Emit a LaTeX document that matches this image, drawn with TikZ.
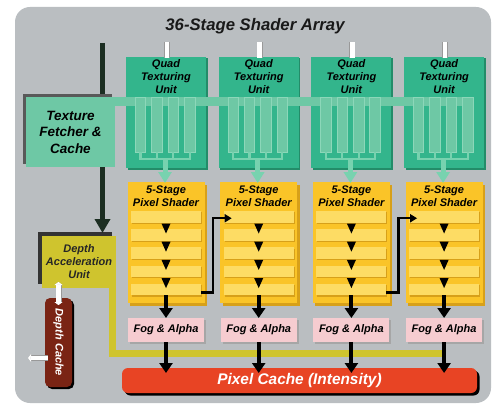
\documentclass[tikz,border=0pt]{standalone}
\usepackage{fontspec}
\setmainfont{Liberation Sans}
\usetikzlibrary{arrows.meta,calc,shadows}
\definecolor{bg}{RGB}{186,190,193}
\definecolor{qgreen}{RGB}{51,181,140}
\definecolor{qshade}{RGB}{35,140,105}
\definecolor{lgreen}{RGB}{110,200,165}
\definecolor{bargreen}{RGB}{140,215,185}
\definecolor{agreen}{RGB}{120,210,175}
\definecolor{psyel}{RGB}{250,196,40}
\definecolor{psshade}{RGB}{215,160,25}
\definecolor{stage}{RGB}{253,220,100}
\definecolor{fogpink}{RGB}{246,204,208}
\definecolor{cachered}{RGB}{232,68,36}
\definecolor{olive}{RGB}{207,196,46}
\definecolor{dcred}{RGB}{122,36,20}
\definecolor{darkline}{RGB}{28,46,34}
\begin{document}
\begin{tikzpicture}[x=1pt,y=-1pt,
  lbl/.style={inner sep=0pt, align=center, font=\fontsize{11}{13}\selectfont\bfseries\itshape},
  box/.style={draw=none, inner sep=0pt, outer sep=0pt},
  qtu/.style={box, fill=qgreen, minimum width=80pt, minimum height=111pt,
    drop shadow={shadow xshift=1.5pt, shadow yshift=-1.5pt, opacity=1, fill=qshade}},
  tbar/.style={box, fill=lgreen, draw=bargreen, line width=0.6pt, minimum width=10.5pt, minimum height=55pt},
  shader/.style={box, fill=psyel, minimum width=77pt, minimum height=121pt,
    drop shadow={shadow xshift=2.5pt, shadow yshift=-2.5pt, opacity=1, fill=psshade}},
  stagebar/.style={box, fill=stage, minimum width=70pt, minimum height=11.5pt,
    drop shadow={shadow xshift=0.8pt, shadow yshift=-1.2pt, opacity=1, fill=psshade}},
  fogbox/.style={box, fill=fogpink, minimum width=76pt, minimum height=24pt,
    drop shadow={shadow xshift=2pt, shadow yshift=-2pt, opacity=1, fill=black!35}},
  blackarrow/.style={line width=4pt, -{Triangle[width=13pt,length=10pt]}},
  steparrow/.style={line width=2.2pt, -{Triangle[width=8pt,length=7pt]}},
  feedarrow/.style={agreen, line width=5pt, -{Triangle[width=13pt,length=11pt]}},
  comb/.style={agreen, line width=2.2pt},
  wharrow/.style={white, line width=4.5pt, preaction={draw=black!40, line width=6pt}},
]
\useasboundingbox (0,0) rectangle (494,406);
\fill[bg, rounded corners=15pt] (15,7) rectangle (491,403);

\node[lbl, font=\fontsize{16.7}{20}\selectfont\bfseries\itshape, text=black!90] (title) at (255,26) {36-Stage Shader Array};

% depth acceleration unit and its feed strip
\node[box, fill=olive, minimum width=74pt, minimum height=52pt,
  drop shadow={shadow xshift=-4pt, shadow yshift=4pt, opacity=1, fill=black!80},
  lbl, text=black!85] (dau) at (79,262) {Depth\\Acceleration\\Unit};
\coordinate (oliveend) at (442,353);
\draw[olive, line width=7pt] ($(dau.south east)+(-3.5,-2)$) |- (oliveend);

% dark feed line down to the depth unit
\coordinate (feed) at (102.5,43);
\draw[darkline, line width=5pt, -{Triangle[width=15pt,length=14pt]}, shorten >=3pt] (feed) -- (feed |- dau.north);

% texture fetcher
\node[box, fill=lgreen, minimum width=89pt, minimum height=70pt,
  drop shadow={shadow xshift=-3pt, shadow yshift=3pt, opacity=1, fill=black!65},
  lbl, font=\fontsize{13.5}{16.5}\selectfont\bfseries\itshape] (tex) at (70.5,132) {Texture\\Fetcher \&\\Cache};

% quad texturing units
\foreach \i in {1,...,4} {
  \pgfmathsetmacro\cx{166+92.7*(\i-1)}
  \node[qtu] (q\i) at (\cx,112.5) {};
  \node[lbl] (qt\i) at (\cx,76.5) {Quad\\Texturing\\Unit};
  \coordinate (in\i) at ({\cx+1},42);
  \draw[wharrow, shorten >=-1pt] (in\i) -- (in\i |- q\i.north);
}

% texture band from the fetcher across all units
\coordinate (bandend) at (472,101.5);
\draw[lgreen, line width=9pt] (tex.east |- bandend) -- (bandend);

% pixel cache
\node[box, fill=cachered, rounded corners=6pt, minimum width=355pt, minimum height=25pt,
  drop shadow={shadow xshift=2.5pt, shadow yshift=-2.5pt, opacity=1, fill=black},
  lbl, text=white, font=\fontsize{15.4}{18}\selectfont\bfseries\itshape] (cache) at (299.5,380.5) {Pixel Cache (Intensity)};

\foreach \i in {1,...,4} {
  \pgfmathsetmacro\cx{166+92.7*(\i-1)}
  \foreach \o [count=\j] in {-24.6,-8.2,8.2,24.6}
    \node[tbar] (b\i-\j) at ({\cx-1+\o},124.5) {};
  \coordinate (cb\i) at ({\cx-1},159);
  \draw[comb] (b\i-1.south) |- (cb\i) -| (b\i-4.south);
  \draw[comb] (b\i-2.south) -- (b\i-2.south |- cb\i);
  \draw[comb] (b\i-3.south) -- (b\i-3.south |- cb\i);
  \node[shader] (p\i) at (\cx,242.5) {};
  \node[lbl] (pt\i) at (\cx,196.5) {5-Stage\\Pixel Shader};
  \draw[feedarrow, shorten >=-1pt] (cb\i) -- (cb\i |- p\i.north);
  \foreach \k in {1,...,5}
    \node[stagebar] (s\i-\k) at (\cx,{216.75+18.2*(\k-1)}) {};
  \foreach \k in {1,...,4}
    \fill ($(s\i-\k.south)+(-4.5,1)$) -- ++(9,0) -- ($(s\i-\k.south)+(0,11)$) -- cycle;
  \node[fogbox, lbl] (f\i) at (\cx,330) {Fog \& Alpha};
  \draw[blackarrow] (s\i-5.south) -- (f\i.north);
  \draw[blackarrow, shorten >=-5pt] (f\i.south) -- (f\i.south |- cache.north);
}

% hand-over between shader columns
\draw[steparrow] ($(s1-5.east)+(0,3)$) -- ++(12,0) |- ($(s2-1.west)+(8,1.5)$);
\draw[steparrow] ($(s3-5.east)+(0,3)$) -- ++(12,0) |- ($(s4-1.west)+(8,1.5)$);

% depth cache
\node[box, fill=dcred, rounded corners=5pt, minimum width=27pt, minimum height=89pt,
  drop shadow={shadow xshift=2pt, shadow yshift=-2pt, opacity=1, fill=black}] (dc) at (58.5,342.5) {};
\node[lbl, text=white, rotate=-90] (dct) at (dc) {Depth Cache};
\draw[wharrow, {Triangle[width=8pt,length=3pt]}-{Triangle[width=8pt,length=3pt]}, shorten <=-6pt, shorten >=-7pt]
  (dc.north |- dau.south) -- (dc.north);
\coordinate (dcout) at (28,358);
\draw[wharrow, -{Triangle[width=8pt,length=3pt]}, shorten <=-3pt] (dc.west |- dcout) -- (dcout);
\end{tikzpicture}
\end{document}
